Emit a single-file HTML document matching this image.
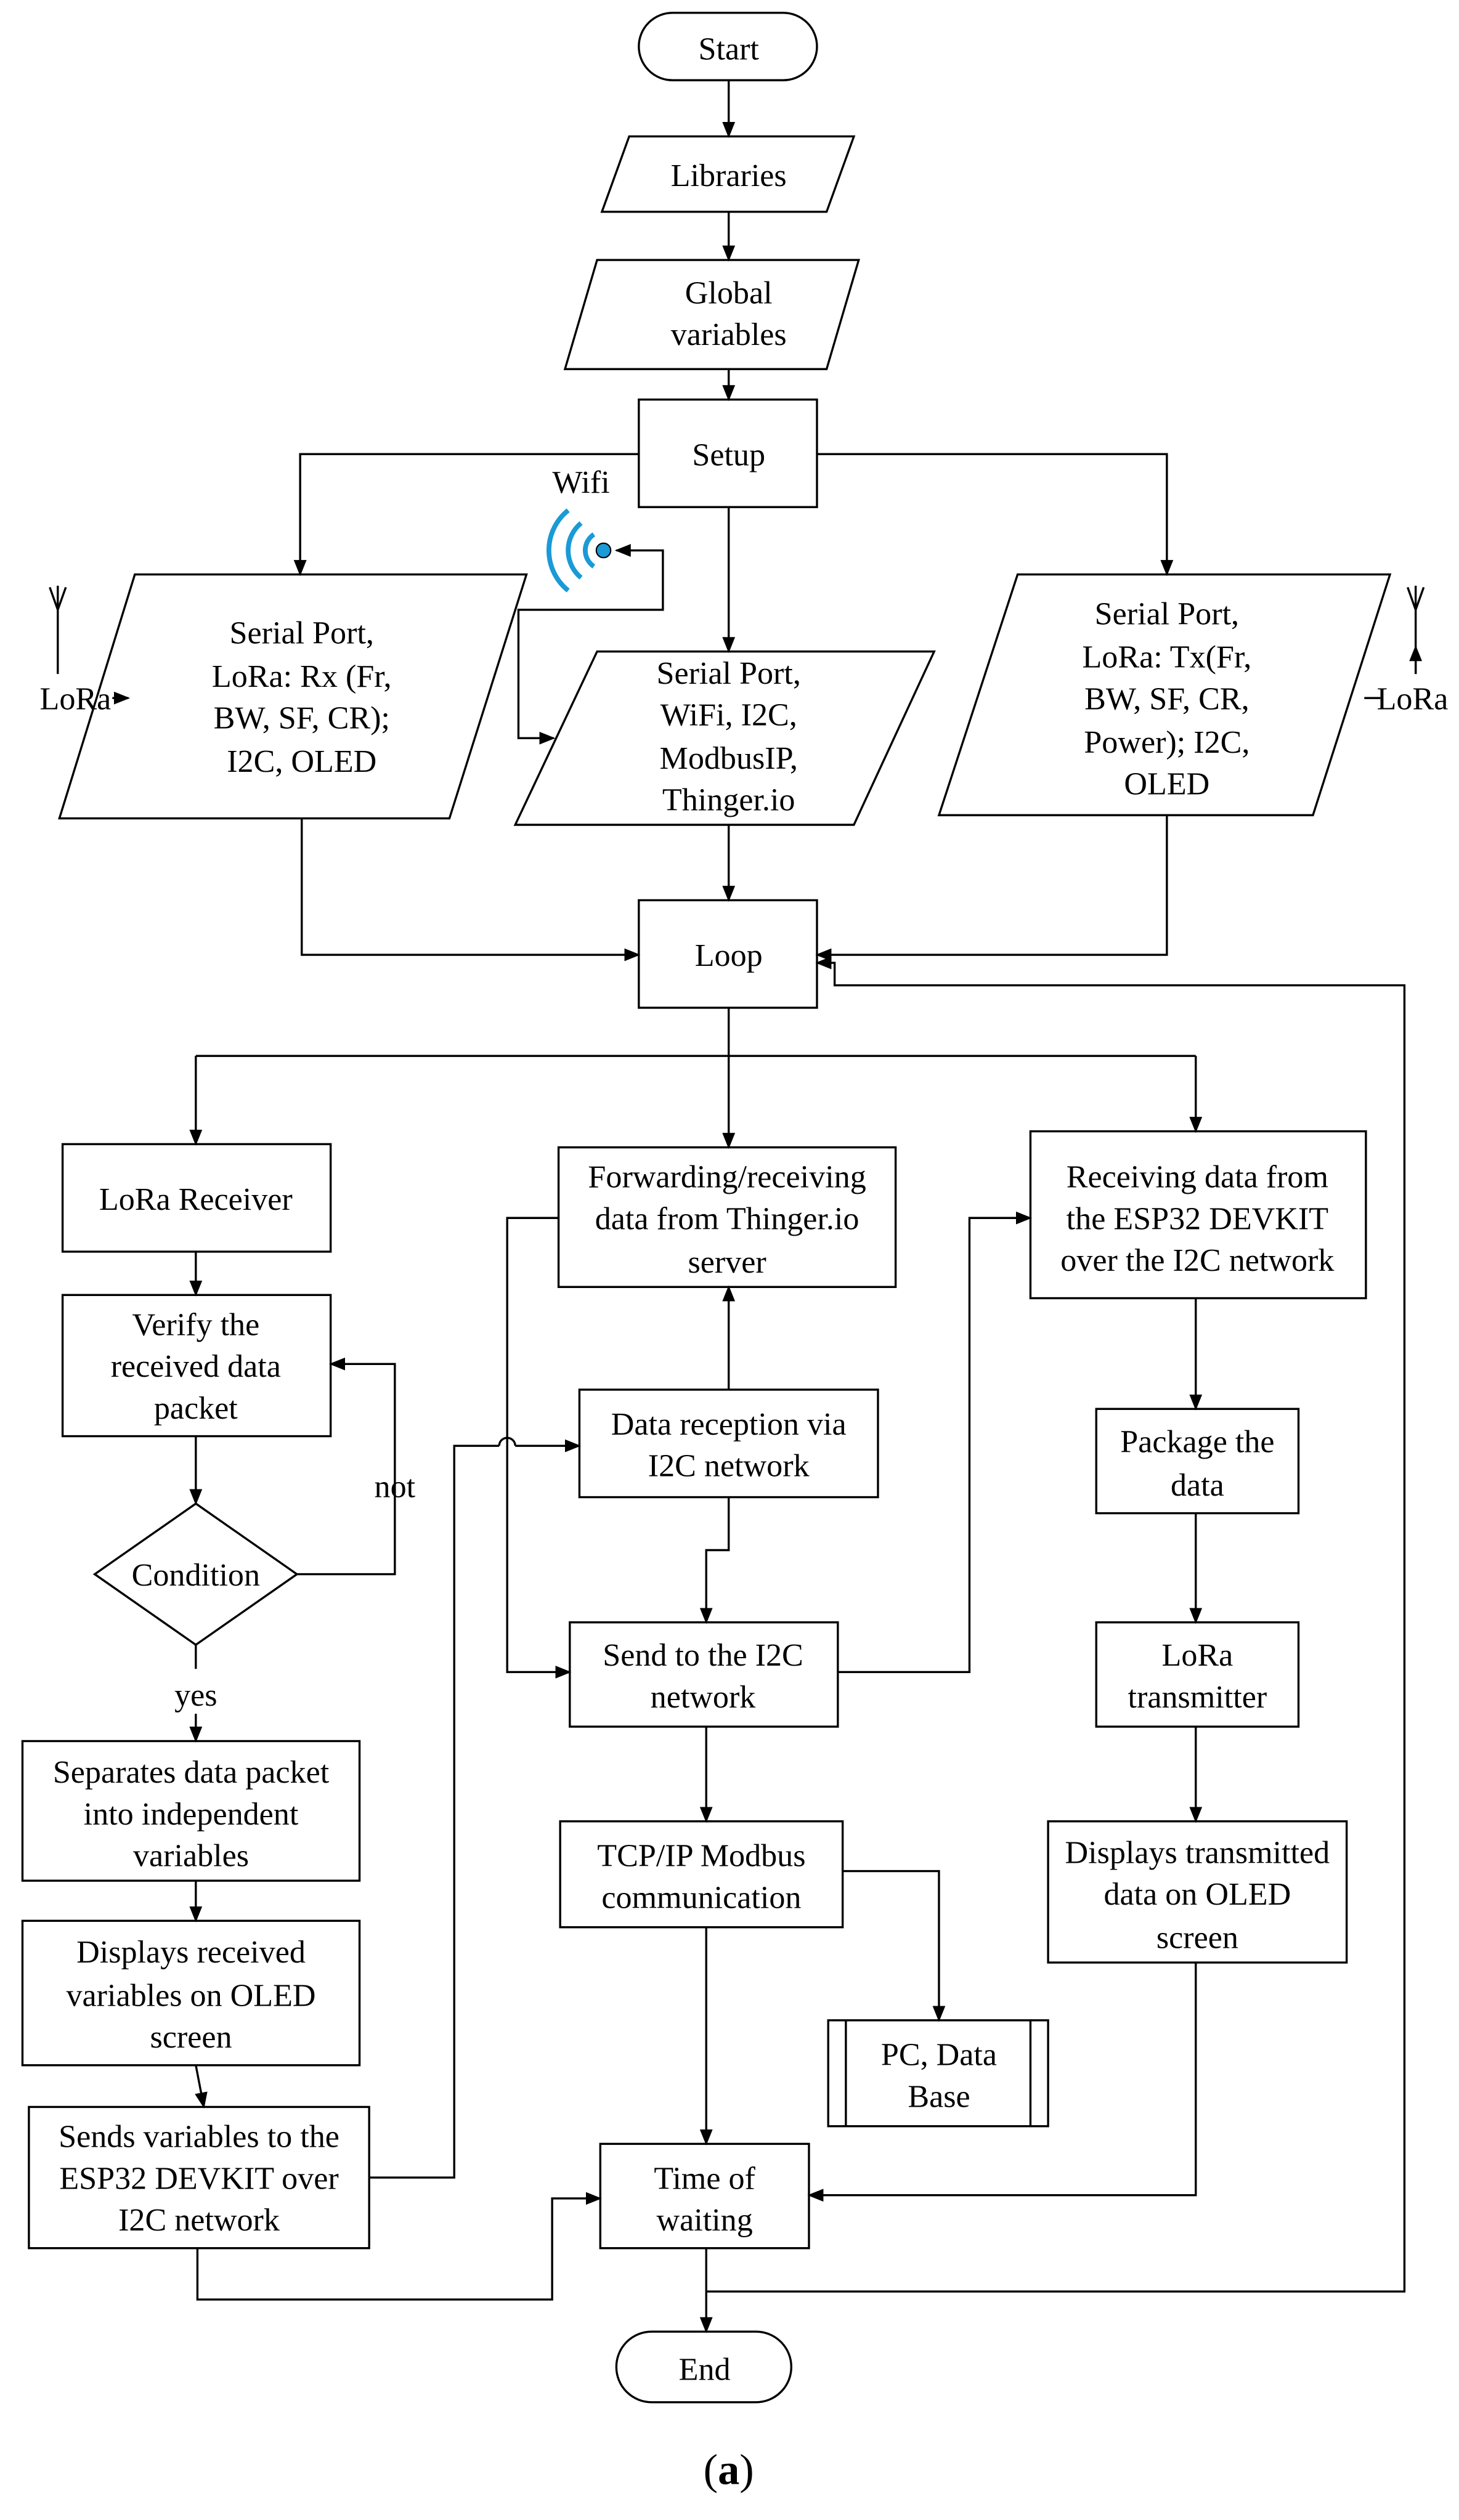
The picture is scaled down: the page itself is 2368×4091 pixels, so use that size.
<!DOCTYPE html>
<html><head><meta charset="utf-8"><style>
html,body{margin:0;padding:0;background:#fff}
svg{display:block}
text{font-family:"Liberation Serif",serif;font-size:20px;fill:#000;text-anchor:middle}
</style></head><body>
<svg width="2368" height="4091" viewBox="0 0 909 1570.4" preserveAspectRatio="none" xmlns="http://www.w3.org/2000/svg">
<defs><marker id="a" markerWidth="10" markerHeight="8" refX="9" refY="4" orient="auto" markerUnits="userSpaceOnUse"><path d="M0,0 L10,4 L0,8 z" fill="#000"/></marker></defs>
<g fill="none" stroke="#000" stroke-width="1.3">
<rect x="398" y="8" width="111" height="42" rx="21"/>
<polygon points="392,85 532,85 515,132 375,132"/>
<polygon points="372,162 535,162 515,230 352,230"/>
<rect x="398" y="249" width="111" height="67"/>
<polygon points="84,358 328,358 280,510 37,510"/>
<polygon points="372,406 582,406 532,514 321,514"/>
<polygon points="634,358 866,358 818,508 585,508"/>
<rect x="398" y="561" width="111" height="67"/>
<rect x="39" y="713" width="167" height="67"/>
<rect x="39" y="807" width="167" height="88"/>
<polygon points="122,937 185,981 122,1025 59,981"/>
<rect x="14" y="1085" width="210" height="87"/>
<rect x="14" y="1197" width="210" height="90"/>
<rect x="18" y="1313" width="212" height="88"/>
<rect x="348" y="715" width="210" height="87"/>
<rect x="361" y="866" width="186" height="67"/>
<rect x="355" y="1011" width="167" height="65"/>
<rect x="642" y="705" width="209" height="104"/>
<rect x="683" y="878" width="126" height="65"/>
<rect x="683" y="1011" width="126" height="65"/>
<rect x="653" y="1135" width="186" height="88"/>
<rect x="349" y="1135" width="176" height="66"/>
<rect x="516" y="1259" width="137" height="66"/>
<line x1="527" y1="1259" x2="527" y2="1325"/><line x1="642" y1="1259" x2="642" y2="1325"/>
<rect x="374" y="1336" width="130" height="65"/>
<rect x="384" y="1453" width="109" height="44" rx="22"/>
<line x1="454" y1="50" x2="454" y2="85" marker-end="url(#a)"/>
<line x1="454" y1="132" x2="454" y2="162" marker-end="url(#a)"/>
<line x1="454" y1="230" x2="454" y2="249" marker-end="url(#a)"/>
<polyline points="398,283 187,283 187,358" marker-end="url(#a)"/>
<polyline points="509,283 727,283 727,358" marker-end="url(#a)"/>
<line x1="454" y1="316" x2="454" y2="406" marker-end="url(#a)"/>
<polyline points="343,380 323,380 323,460 345,460" marker-end="url(#a)"/>
<polyline points="343,380 413,380 413,343 384,343" marker-end="url(#a)"/>
<line x1="36" y1="365" x2="36" y2="420"/><polyline points="31,366 36,380 41,366"/>
<line x1="70" y1="435" x2="80" y2="435" marker-end="url(#a)"/>
<line x1="882" y1="365" x2="882" y2="420"/><polyline points="877,366 882,380 887,366"/>
<line x1="882" y1="420" x2="882" y2="403" marker-end="url(#a)"/>
<line x1="850" y1="435" x2="860" y2="435"/>
<polyline points="188,510 188,595 398,595" marker-end="url(#a)"/>
<line x1="454" y1="514" x2="454" y2="561" marker-end="url(#a)"/>
<polyline points="727,508 727,595 509,595" marker-end="url(#a)"/>
<polyline points="440,1428 875,1428 875,614 520,614 520,600 509,600" marker-end="url(#a)"/>
<polyline points="454,628 454,658"/>
<line x1="122" y1="658" x2="745" y2="658"/>
<line x1="122" y1="658" x2="122" y2="713" marker-end="url(#a)"/>
<line x1="454" y1="658" x2="454" y2="715" marker-end="url(#a)"/>
<line x1="745" y1="658" x2="745" y2="705" marker-end="url(#a)"/>
<line x1="122" y1="780" x2="122" y2="807" marker-end="url(#a)"/>
<line x1="122" y1="895" x2="122" y2="937" marker-end="url(#a)"/>
<polyline points="185,981 246,981 246,850 206,850" marker-end="url(#a)"/>
<line x1="122" y1="1025" x2="122" y2="1040"/>
<line x1="122" y1="1068" x2="122" y2="1085" marker-end="url(#a)"/>
<line x1="122" y1="1172" x2="122" y2="1197" marker-end="url(#a)"/>
<line x1="122" y1="1287" x2="127" y2="1313" marker-end="url(#a)"/>
<polyline points="230,1357 283,1357 283,901 311,901"/>
<path d="M311,901 A5,5 0 0 1 321,901"/>
<line x1="321" y1="901" x2="361" y2="901" marker-end="url(#a)"/>
<polyline points="123,1401 123,1433 344,1433 344,1370 374,1370" marker-end="url(#a)"/>
<line x1="454" y1="866" x2="454" y2="802" marker-end="url(#a)"/>
<polyline points="454,933 454,966 440,966 440,1011" marker-end="url(#a)"/>
<polyline points="348,759 316,759 316,1042 355,1042" marker-end="url(#a)"/>
<polyline points="522,1042 604,1042 604,759 642,759" marker-end="url(#a)"/>
<line x1="745" y1="809" x2="745" y2="878" marker-end="url(#a)"/>
<line x1="745" y1="943" x2="745" y2="1011" marker-end="url(#a)"/>
<line x1="745" y1="1076" x2="745" y2="1135" marker-end="url(#a)"/>
<polyline points="745,1223 745,1368 504,1368" marker-end="url(#a)"/>
<line x1="440" y1="1076" x2="440" y2="1135" marker-end="url(#a)"/>
<polyline points="525,1166 585,1166 585,1259" marker-end="url(#a)"/>
<line x1="440" y1="1201" x2="440" y2="1336" marker-end="url(#a)"/>
<line x1="440" y1="1401" x2="440" y2="1453" marker-end="url(#a)"/>
</g>
<g fill="none" stroke="#1a9ad6" stroke-width="3">
<path d="M370,333 A12,12 0 0 0 370,353"/>
<path d="M362,326 A22,22 0 0 0 362,360"/>
<path d="M354,318 A32,32 0 0 0 354,368"/>
</g>
<circle cx="376" cy="343" r="4.5" fill="#1a9ad6" stroke="#000" stroke-width="0.8"/>
<text x="454" y="37">Start</text>
<text x="454" y="116">Libraries</text>
<text x="454" y="189">Global</text><text x="454" y="215">variables</text>
<text x="454" y="290">Setup</text>
<text x="362" y="307">Wifi</text>
<text x="188" y="401">Serial Port,</text><text x="188" y="428">LoRa: Rx (Fr,</text><text x="188" y="454">BW, SF, CR);</text><text x="188" y="481">I2C, OLED</text>
<text x="454" y="426">Serial Port,</text><text x="454" y="452">WiFi, I2C,</text><text x="454" y="479">ModbusIP,</text><text x="454" y="505">Thinger.io</text>
<text x="727" y="389">Serial Port,</text><text x="727" y="416">LoRa: Tx(Fr,</text><text x="727" y="442">BW, SF, CR,</text><text x="727" y="469">Power);  I2C,</text><text x="727" y="495">OLED</text>
<text x="47" y="442">LoRa</text>
<text x="880" y="442">LoRa</text>
<text x="454" y="602">Loop</text>
<text x="122" y="754">LoRa Receiver</text>
<text x="122" y="832">Verify the</text><text x="122" y="858">received data</text><text x="122" y="884">packet</text>
<text x="122" y="988">Condition</text>
<text x="246" y="933">not</text>
<text x="122" y="1063">yes</text>
<text x="119" y="1111">Separates data packet</text><text x="119" y="1137">into independent</text><text x="119" y="1163">variables</text>
<text x="119" y="1223">Displays received</text><text x="119" y="1250">variables on OLED</text><text x="119" y="1276">screen</text>
<text x="124" y="1338">Sends variables to the</text><text x="124" y="1364">ESP32 DEVKIT over</text><text x="124" y="1390">I2C network</text>
<text x="453" y="740">Forwarding/receiving</text><text x="453" y="766">data from Thinger.io</text><text x="453" y="793">server</text>
<text x="454" y="894">Data reception via</text><text x="454" y="920">I2C network</text>
<text x="438" y="1038">Send to the I2C</text><text x="438" y="1064">network</text>
<text x="746" y="740">Receiving data from</text><text x="746" y="766">the ESP32 DEVKIT</text><text x="746" y="792">over the I2C network</text>
<text x="746" y="905">Package the</text><text x="746" y="932">data</text>
<text x="746" y="1038">LoRa</text><text x="746" y="1064">transmitter</text>
<text x="746" y="1161">Displays transmitted</text><text x="746" y="1187">data on OLED</text><text x="746" y="1214">screen</text>
<text x="437" y="1163">TCP/IP Modbus</text><text x="437" y="1189">communication</text>
<text x="585" y="1287">PC, Data</text><text x="585" y="1313">Base</text>
<text x="439" y="1364">Time of</text><text x="439" y="1390">waiting</text>
<text x="439" y="1483">End</text>
<text x="454" y="1548" style="font-size:27px">(<tspan font-weight="bold">a</tspan>)</text>
</svg>
</body></html>
